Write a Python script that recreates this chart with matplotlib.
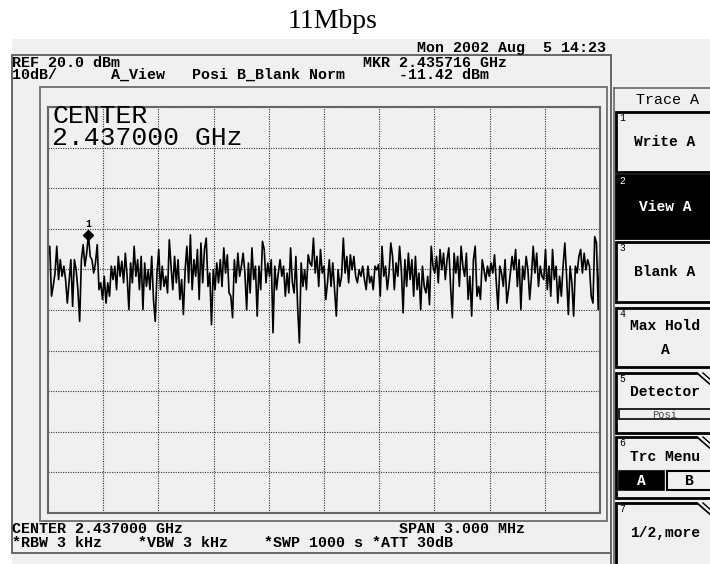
import numpy as np
import matplotlib.pyplot as plt
from matplotlib.patches import Rectangle, Polygon

W, H = 710, 564
mono = 'Liberation Mono'

center_ghz = 2.437
span_mhz = 3.0
ref_dbm = 20.0
db_per_div = 10
mkr_ghz = 2.435716
mkr_dbm = -11.42

# sweep levels, left half of the screen
level_left = [
    -16.8, -14.3, -26.6, -24.0, -20.9, -14.3, -22.5, -17.6, -21.7, -19.2,
    -22.5, -28.3, -23.0, -17.6, -29.1, -17.6, -20.1, -25.0, -32.8, -17.6,
    -13.9, -19.2, -16.0, mkr_dbm, -16.8, -17.6, -20.9, -18.4, -13.9, -25.0,
    -23.3, -27.4, -21.7, -28.3, -23.3, -26.6, -19.2, -22.5, -19.2, -25.0,
    -16.8, -21.7, -18.0, -23.3, -16.0, -21.7, -29.9, -18.4, -23.3, -14.3,
    -21.7, -17.6, -25.0, -16.8, -29.9, -18.4, -24.2, -20.1, -25.0, -16.8,
    -27.4, -32.8, -20.9, -15.1, -25.0, -19.2, -24.2, -21.7, -25.8, -12.7,
    -19.2, -25.0, -16.8, -23.3, -17.6, -27.4, -22.5, -31.1, -20.1, -14.3,
    -23.3, -11.5, -25.0, -17.6, -21.7, -15.1, -27.4, -13.5, -23.3, -15.1,
    -12.3, -24.2, -20.9, -33.6, -20.1, -25.0, -18.4, -23.3, -17.6, -24.2,
    -14.7, -20.9, -16.4, -25.8, -26.6, -31.9, -17.6, -23.3, -16.0, -21.7,
    -19.2, -16.0, -20.9, -29.9, -18.4, -25.8, -14.7, -22.5, -19.2, -31.5,
    -19.2, -25.0, -13.1, -15.1, -23.3, -18.4, -21.7, -17.6, -35.6, -19.2,
    -25.0, -20.9, -17.6, -21.7, -19.2, -26.6, -20.9, -25.8, -14.7, -23.3,
    -25.8, -16.8, -29.1, -38.1, -18.4, -24.2, -20.1, -25.0, -16.4, -18.4,
    -19.2, -12.3, -20.9, -16.8, -24.2,
]
# sweep levels, right half of the screen
level_right = [
    -15.1, -20.9, -19.2, -27.4, -23.3, -17.6, -24.2, -18.4, -25.0, -31.5,
    -20.1, -24.2, -21.7, -12.3, -20.9, -16.8, -23.3, -16.4, -20.1, -16.8,
    -21.7, -23.3, -20.1, -21.7, -19.2, -22.5, -25.0, -19.2, -23.3, -21.7,
    -25.0, -19.2, -20.1, -18.8, -26.6, -14.3, -21.7, -19.2, -25.0, -20.9,
    -13.5, -16.8, -25.0, -18.4, -21.7, -14.3, -20.1, -30.7, -17.6, -24.2,
    -16.0, -22.5, -17.6, -26.6, -16.8, -25.0, -20.9, -29.9, -19.2, -24.2,
    -25.8, -21.7, -28.7, -14.3, -19.2, -20.9, -16.8, -23.3, -15.1, -20.1,
    -16.0, -22.5, -17.6, -14.7, -24.2, -31.9, -16.0, -20.9, -16.8, -24.2,
    -14.3, -19.2, -21.7, -16.0, -27.4, -21.7, -31.5, -17.6, -14.3, -26.6,
    -24.2, -27.4, -17.6, -20.1, -22.9, -19.2, -21.7, -18.4, -20.9, -16.4,
    -23.3, -29.9, -19.2, -20.9, -24.2, -17.6, -28.3, -25.0, -20.9, -16.8,
    -20.1, -15.1, -24.2, -17.6, -29.9, -19.2, -22.5, -16.8, -20.1, -27.4,
    -21.7, -14.3, -20.9, -16.0, -24.2, -19.2, -21.7, -22.5, -15.1, -25.0,
    -19.2, -26.6, -15.1, -22.5, -19.2, -28.3, -21.7, -26.6, -19.2, -13.5,
    -21.7, -31.1, -19.2, -23.3, -31.5, -19.2, -20.9, -16.8, -15.1, -20.9,
    -16.0, -20.1, -17.6, -19.2, -26.6, -28.3, -11.9, -13.5, -29.9, -14.3,
]

# status lines, as (column, text) on the 9 px character grid
top_line = [(0, f"REF {ref_dbm:.1f} dBm"), (39, f"MKR {mkr_ghz:.6f} GHz")]
second_line = [(0, "10dB/"), (11, "A_View"), (20, "Posi"), (25, "B_Blank"),
               (33, "Norm"), (43, f"{mkr_dbm:.2f} dBm")]
bottom_line1 = [(0, f"CENTER {center_ghz:.6f} GHz"), (43, f"SPAN {span_mhz:.3f} MHz")]
bottom_line2 = [(0, "*RBW 3 kHz"), (14, "*VBW 3 kHz"), (28, "*SWP 1000 s"), (40, "*ATT 30dB")]
date_text = "Mon 2002 Aug  5 14:23"

level_dbm = np.array(level_left + level_right)
f_lo = center_ghz - span_mhz / 2000
f_hi = center_ghz + span_mhz / 2000
freq_ghz = np.linspace(f_lo, f_hi, len(level_dbm))


def row(fields):
    s = ""
    for col, t in fields:
        s = s.ljust(col) + t
    return s


fig = plt.figure(figsize=(W / 100, H / 100), dpi=100)
fig.patch.set_facecolor('white')
fig.add_artist(Rectangle((12 / W, 0), 1 - 12 / W, 1 - 39 / H, transform=fig.transFigure,
                         facecolor='#f0f0f0', edgecolor='none', zorder=-1))

# graticule
ax = fig.add_axes([48 / W, 1 - 513 / H, 552 / W, 406 / H], zorder=1)
ax.set_facecolor('#f0f0f0')
ax.set_xlim(f_lo, f_hi)
ax.set_ylim(ref_dbm - 10 * db_per_div, ref_dbm)
ax.set_xticks(np.linspace(f_lo, f_hi, 11))
ax.set_yticks(np.arange(ref_dbm - 10 * db_per_div, ref_dbm + 1, db_per_div))
ax.tick_params(length=0, labelbottom=False, labelleft=False)
ax.grid(True, color='#333333', lw=0.8, ls=(0, (1, 1.2)))
for s in ax.spines.values():
    s.set_color('#666666')
    s.set_linewidth(1.5)
ax.plot(freq_ghz, level_dbm, color='black', lw=1.2)
ax.plot(mkr_ghz, mkr_dbm, 'D', color='black', ms=5)
ax.annotate('1', (mkr_ghz, mkr_dbm), xytext=(0, 4), textcoords='offset points',
            ha='center', va='bottom', fontsize=7, family=mono, weight='bold')

# screen overlay in pixel coordinates
fg = fig.add_axes([0, 0, 1, 1], zorder=3)
fg.set_xlim(0, W)
fg.set_ylim(H, 0)
fg.axis('off')


def txt(x, y, s, size=10.8, ha='left', **kw):
    # y is the baseline of the last line
    fg.text(x, y, s, fontsize=size, family=mono, ha=ha, va='baseline', **kw)


fg.text(333, 28, "11Mbps", fontsize=20, family='Liberation Serif', ha='center', va='baseline')

fg.add_patch(Rectangle((12, 55), 599, 498, fill=False, edgecolor='#666666', lw=1.4))
fg.add_patch(Rectangle((40, 87), 567, 434, fill=False, edgecolor='#777777', lw=1.4))
fg.plot([611, 611], [553, 564], color='#666666', lw=1.4)
fg.plot([613.5, 613.5], [88, 564], color='#666666', lw=1.2)
fg.plot([613.5, 710], [88, 88], color='#666666', lw=1.2)

txt(417, 52, date_text, weight='bold')
txt(12, 79, row(top_line) + "\n" + row(second_line), linespacing=0.81, weight='bold')
txt(12, 547, row(bottom_line1) + "\n" + row(bottom_line2), linespacing=0.96, weight='bold')
txt(52, 145, f"CENTER\n{center_ghz:.6f} GHz", size=19, linespacing=0.92)

# soft keys
txt(667, 104, "Trace A", ha='center')
key_top = [112, 175, 242, 308, 373, 437, 503]
key_bot = [172, 238, 302, 367, 433, 498, 568]
for i, (t, b) in enumerate(zip(key_top, key_bot)):
    dark = i == 1
    fg.add_patch(Rectangle((616, t), 100, b - t, facecolor='black' if dark else '#f0f0f0',
                           edgecolor='black', lw=2.0))
    txt(619, t + 9, str(i + 1), size=7, color='white' if dark else 'black')
    if i >= 4:
        fg.add_patch(Polygon([[697, t - 1.5], [712, t - 1.5], [712, t + 13]],
                             facecolor='#f0f0f0', edgecolor='none'))
        fg.plot([697, 712], [t, t + 13], color='black', lw=1.2)
        fg.plot([703, 712], [t, t + 8], color='black', lw=1.0)

key_font = dict(size=10.5, weight='bold')
txt(665, 146, "Write A", ha='center', **key_font)
txt(665, 211, "View A", ha='center', color='white', **key_font)
txt(665, 276, "Blank A", ha='center', **key_font)
txt(665, 354, "Max Hold\nA", ha='center', multialignment='center', linespacing=1.9, **key_font)
txt(665, 396, "Detector", ha='center', **key_font)
fg.add_patch(Rectangle((619, 409), 95, 10, facecolor='#f0f0f0', edgecolor='black', lw=1.2))
txt(665, 417.5, "Posi", size=7.5, ha='center', color='#444444')
txt(665, 461, "Trc Menu", ha='center', **key_font)
fg.add_patch(Rectangle((619, 471), 45, 19, facecolor='black', edgecolor='black', lw=1.2))
fg.add_patch(Rectangle((667, 471), 47, 19, facecolor='#f0f0f0', edgecolor='black', lw=1.5))
txt(641.5, 485, "A", ha='center', color='white', **key_font)
txt(689, 485, "B", ha='center', **key_font)
txt(665, 537, "1/2,more", ha='center', **key_font)

fig.savefig('out.png', dpi=100, facecolor=fig.get_facecolor())
